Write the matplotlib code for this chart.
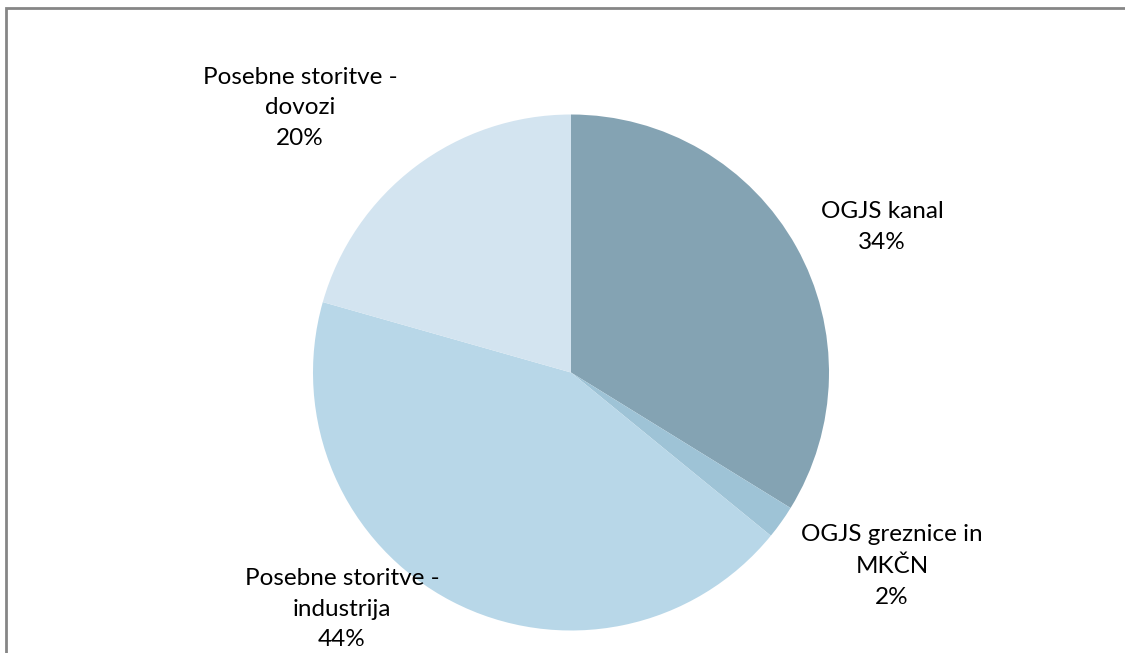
import matplotlib.pyplot as plt
from matplotlib.patches import Rectangle

# shares of the categories
categories = ['OGJS kanal', 'OGJS greznice in\nMKČN',
              'Posebne storitve -\nindustrija', 'Posebne storitve -\ndovozi']
shares = [33.8, 2.1, 43.5, 20.6]
percent_labels = ['34%', '2%', '44%', '20%']
colors = ['#84A3B3', '#9EC3D6', '#B8D7E8', '#D3E4F0']

# label centres in pixel space (x, y from top)
label_pos = [(882, 227), (892, 566), (342, 609), (300, 108)]

W, H = 1125, 653
fig = plt.figure(figsize=(W / 100, H / 100), dpi=100)
ax = fig.add_axes([0, 0, 1, 1])

# outer chart frame (only left and top edges are in view)
fig.patches.append(Rectangle((6 / W, -0.1), 1.2, (H - 8) / H + 0.1,
                             transform=fig.transFigure, fill=False,
                             edgecolor='#868686', linewidth=2))

ax.pie(shares, colors=colors, startangle=90, counterclock=False,
       center=(571, H - 372.5), radius=258, frame=True,
       wedgeprops=dict(linewidth=0))
ax.set_xlim(0, W)
ax.set_ylim(0, H)
ax.set_aspect('equal')
ax.axis('off')

for cat, pct, (x, y) in zip(categories, percent_labels, label_pos):
    ax.text(x, H - y, cat + '\n' + pct, ha='center', va='center',
            fontsize=17.5, family='Lato', linespacing=1.58, color='black')

fig.savefig('out.png', dpi=100)
